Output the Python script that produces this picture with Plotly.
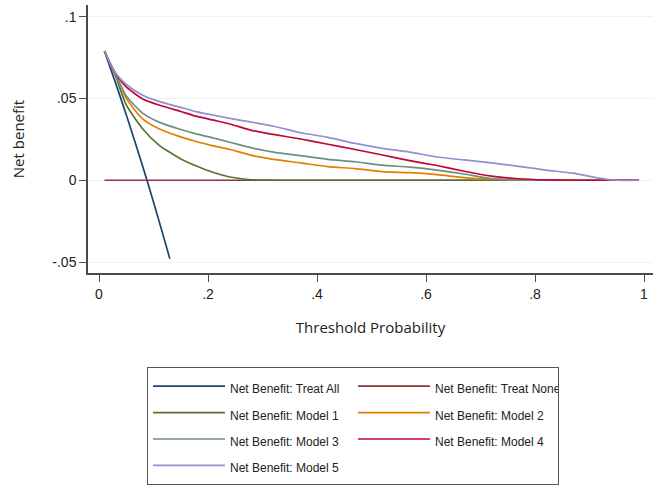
import plotly.graph_objects as go

# ---- data ----
thr = [0.01, 0.02, 0.03, 0.05, 0.08, 0.11, 0.15, 0.18, 0.21, 0.24, 0.28, 0.32,
       0.37, 0.42, 0.47, 0.52, 0.57, 0.62, 0.67, 0.72, 0.77, 0.82, 0.87, 0.92,
       0.95, 0.99]

treat_all_x = [0.01, 0.03, 0.05, 0.07, 0.09, 0.11, 0.13]
treat_all_y = [0.0788, 0.0598, 0.0400, 0.0193, -0.0022, -0.0247, -0.0480]

treat_none_x = [0.01, 0.99]
treat_none_y = [0.0, 0.0]

model1 = [0.0790, 0.0712, 0.0640, 0.0460, 0.0315, 0.0215, 0.0130, 0.0085, 0.0047,
          0.0020, 0.0003, 0.0, 0.0, 0.0, 0.0, 0.0, 0.0, 0.0, 0.0, 0.0, 0.0, 0.0,
          0.0, 0.0, 0.0, 0.0]
model2 = [0.0790, 0.0716, 0.0650, 0.0500, 0.0375, 0.0315, 0.0265, 0.0235, 0.0210,
          0.0188, 0.0152, 0.0128, 0.0106, 0.0083, 0.0071, 0.0052, 0.0046, 0.0034,
          0.0016, 0.0006, 0.0002, 0.0, 0.0, 0.0, 0.0, 0.0]
model3 = [0.0790, 0.0716, 0.0652, 0.0515, 0.0410, 0.0355, 0.0310, 0.0282, 0.0258,
          0.0232, 0.0198, 0.0172, 0.0150, 0.0128, 0.0113, 0.0092, 0.0080, 0.0062,
          0.0038, 0.0010, 0.0002, 0.0, 0.0, 0.0, 0.0, 0.0]
model4 = [0.0790, 0.0718, 0.0655, 0.0570, 0.0497, 0.0460, 0.0420, 0.0390, 0.0367,
          0.0344, 0.0305, 0.0280, 0.0252, 0.0220, 0.0188, 0.0154, 0.0120, 0.0090,
          0.0055, 0.0025, 0.0009, 0.0002, 0.0, 0.0, 0.0, 0.0]
model5 = [0.0790, 0.0718, 0.0657, 0.0585, 0.0520, 0.0482, 0.0445, 0.0418, 0.0398,
          0.0378, 0.0355, 0.0330, 0.0290, 0.0262, 0.0225, 0.0195, 0.0172, 0.0142,
          0.0124, 0.0106, 0.0085, 0.0062, 0.0043, 0.0011, 0.0, 0.0]

names = ["Net Benefit: Treat All", "Net Benefit: Treat None",
         "Net Benefit: Model 1", "Net Benefit: Model 2", "Net Benefit: Model 3",
         "Net Benefit: Model 4", "Net Benefit: Model 5"]
colors = ["#1a476f", "#90353b", "#55752f", "#e37e00", "#6e8e84", "#c10534", "#938dd2"]

x_tickvals = [0, 0.2, 0.4, 0.6, 0.8, 1]
x_ticktext = ["0", ".2", ".4", ".6", ".8", "1"]
y_tickvals = [-0.05, 0, 0.05, 0.1]
y_ticktext = ["-.05", "0", ".05", ".1"]

series = [
    (treat_all_x, treat_all_y),
    (treat_none_x, treat_none_y),
    (thr, model1), (thr, model2), (thr, model3), (thr, model4), (thr, model5),
]

fig = go.Figure()
for (xs, ys), nm, col in zip(series, names, colors):
    fig.add_trace(go.Scatter(
        x=xs, y=ys, mode="lines", name=f'<span style="font-size:12px">{nm}</span>',
        line=dict(color=col, width=1.7, shape="spline", smoothing=0.6),
    ))

axis_col = "#4a4a4a"
fig.update_layout(
    width=653, height=485,
    margin=dict(l=88, r=0, t=5, b=210),
    paper_bgcolor="white", plot_bgcolor="white",
    font=dict(family="Liberation Sans, Arial, sans-serif", size=14, color="#222"),
    showlegend=True,
    legend=dict(
        orientation="h", x=0.1044, y=-0.352, xanchor="left", yanchor="top",
        bordercolor="#555", borderwidth=1,
        font=dict(family="Liberation Sans, Arial, sans-serif", size=18, color="#222"),
        itemwidth=72, entrywidth=118, entrywidthmode="pixels", traceorder="normal",
    ),
)
fig.update_xaxes(
    range=[-0.0202, 1.0165], tickvals=x_tickvals, ticktext=x_ticktext,
    showgrid=False, zeroline=False, showline=True, linecolor=axis_col, linewidth=1.5,
    ticks="outside", ticklen=7, tickcolor=axis_col, tickwidth=1.2, automargin=False,
    title=dict(text="Threshold Probability", standoff=22,
               font=dict(family="Open Sans, sans-serif", size=15, color="#222")),
)
fig.update_yaxes(
    range=[-0.0567, 0.1071], tickvals=y_tickvals, ticktext=y_ticktext,
    showgrid=True, gridcolor="#eaf2f3", gridwidth=1, zeroline=False,
    showline=True, linecolor=axis_col, linewidth=1.5,
    ticks="outside", ticklen=7, tickcolor=axis_col, tickwidth=1.2, automargin=False,
    title=dict(text="Net benefit", standoff=24,
               font=dict(family="Open Sans, sans-serif", size=15, color="#222")),
)

fig.write_html(
    "out.html",
    config={"displayModeBar": False},
    post_script="document.body.style.margin='0';document.body.style.overflow='hidden';",
)
